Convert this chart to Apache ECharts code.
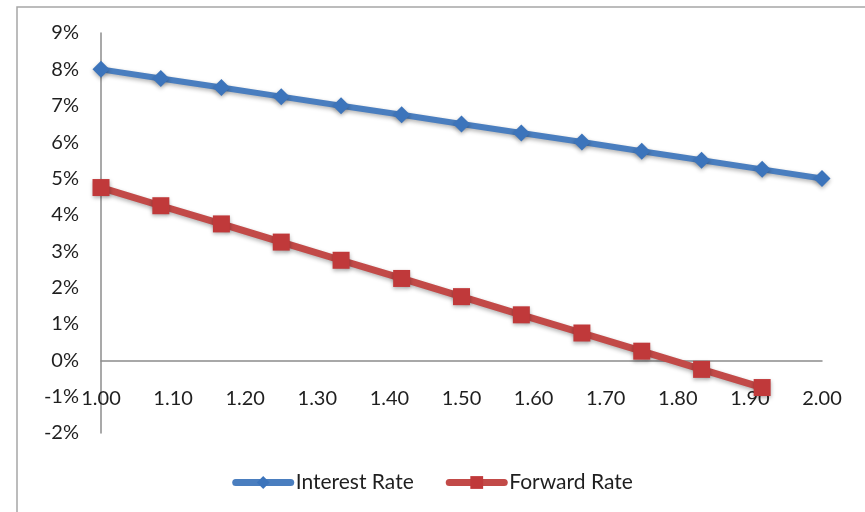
<!DOCTYPE html>
<html>
<head>
<meta charset="utf-8">
<style>
  html, body { margin: 0; padding: 0; background: #fff; }
  #chart { width: 865px; height: 512px; }
</style>
<script src="https://cdn.jsdelivr.net/npm/echarts@6/dist/echarts.min.js"></script>
</head>
<body>
<div id="chart"></div>
<script>
// Maturity (years) and rates (%)
const interestX = [1.000, 1.083, 1.167, 1.250, 1.333, 1.417, 1.500, 1.583, 1.667, 1.750, 1.833, 1.917, 2.000];
const interestRate = [8.00, 7.75, 7.50, 7.25, 7.00, 6.75, 6.50, 6.25, 6.00, 5.75, 5.50, 5.25, 5.00];
const forwardX = [1.000, 1.083, 1.167, 1.250, 1.333, 1.417, 1.500, 1.583, 1.667, 1.750, 1.833, 1.917];
const forwardRate = [4.75, 4.25, 3.75, 3.25, 2.75, 2.25, 1.75, 1.25, 0.75, 0.25, -0.25, -0.75];
const seriesNames = ['Interest Rate', 'Forward Rate'];

const FONT = 'Lato, "Open Sans", sans-serif';
const TEXT = '#1f1f1f';
const pair = (xs, ys) => xs.map((x, i) => [x, ys[i]]);
const shadow = { shadowColor: 'rgba(0,0,0,0.3)', shadowBlur: 4, shadowOffsetY: 2 };

const chart = echarts.init(document.getElementById('chart'), null, { renderer: 'canvas' });
chart.setOption({
  animation: false,
  backgroundColor: '#ffffff',
  grid: { left: 101, right: 43, top: 33, bottom: 79 },
  graphic: [{
    type: 'rect',
    shape: { x: 17, y: 7, width: 900, height: 600 },
    style: { fill: 'none', stroke: '#a6a6a6', lineWidth: 1.5 },
    silent: true
  }],
  legend: {
    top: 467,
    left: 'center',
    itemWidth: 55,
    itemHeight: 16,
    itemGap: 32,
    lineStyle: { width: 7, cap: 'round' },
    textStyle: { fontFamily: FONT, fontSize: 21, color: TEXT },
    data: seriesNames
  },
  xAxis: {
    type: 'value',
    min: 1, max: 2, interval: 0.1,
    axisLine: { onZero: true, lineStyle: { color: '#8c8c8c', width: 1.5 } },
    axisTick: { show: false },
    splitLine: { show: false },
    axisLabel: {
      margin: -44,
      fontFamily: FONT, fontSize: 20, color: TEXT,
      formatter: v => v.toFixed(2)
    }
  },
  yAxis: {
    type: 'value',
    min: -2, max: 9, interval: 1,
    axisLine: { show: true, lineStyle: { color: '#8c8c8c', width: 1.5 } },
    axisTick: { show: false },
    splitLine: { show: false },
    axisLabel: {
      margin: 22,
      fontFamily: FONT, fontSize: 20, color: TEXT,
      formatter: '{value}%'
    }
  },
  series: [
    {
      name: seriesNames[0],
      type: 'line',
      data: pair(interestX, interestRate),
      symbol: 'diamond',
      symbolSize: 17,
      color: '#3f78c0',
      lineStyle: Object.assign({ width: 6, color: '#4a7ebf' }, shadow),
      itemStyle: Object.assign({ color: '#3c74bb' }, shadow),
      z: 3
    },
    {
      name: seriesNames[1],
      type: 'line',
      data: pair(forwardX, forwardRate),
      symbol: 'rect',
      symbolSize: 17,
      color: '#c0403f',
      lineStyle: Object.assign({ width: 7, color: '#c24a48' }, shadow),
      itemStyle: Object.assign({ color: '#c0393a' }, shadow),
      z: 2
    }
  ]
});
</script>
</body>
</html>
